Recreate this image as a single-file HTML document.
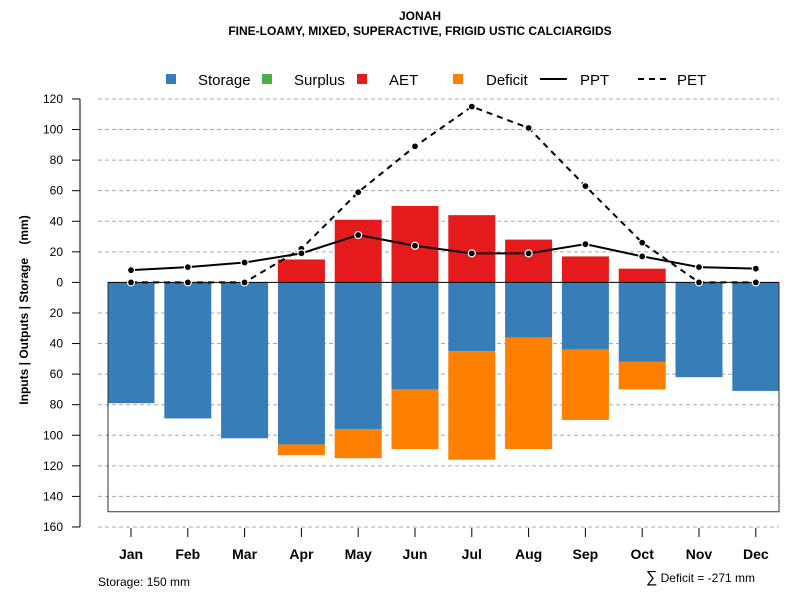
<!DOCTYPE html>
<html><head><meta charset="utf-8"><style>
body{margin:0;background:#fff;font-family:"Liberation Sans",sans-serif}
</style></head><body>
<svg id="c" width="800" height="600" xmlns="http://www.w3.org/2000/svg" font-family="Liberation Sans, sans-serif">
<text x="420" y="20" text-anchor="middle" font-size="12" font-weight="bold">JONAH</text>
<text x="420" y="35" text-anchor="middle" font-size="12" font-weight="bold">FINE-LOAMY, MIXED, SUPERACTIVE, FRIGID USTIC CALCIARGIDS</text>
<g font-size="15">
<rect x="166" y="74" width="10" height="10" fill="#377eb8"/>
<text x="198" y="85">Storage</text>
<rect x="262" y="74" width="10" height="10" fill="#4daf4a"/>
<text x="294" y="85">Surplus</text>
<rect x="357" y="74" width="10" height="10" fill="#e41a1c"/>
<text x="389" y="85">AET</text>
<rect x="453" y="74" width="10" height="10" fill="#ff7f00"/>
<text x="486" y="85">Deficit</text>
<line x1="540" y1="79" x2="567" y2="79" stroke="#000" stroke-width="2"/>
<text x="580" y="85">PPT</text>
<line x1="638" y1="79" x2="667" y2="79" stroke="#000" stroke-width="2" stroke-dasharray="6,5"/>
<text x="677" y="85">PET</text>
</g>
<text transform="translate(28,310) rotate(-90)" text-anchor="middle" font-size="12" font-weight="bold">Inputs | Outputs | Storage&#160;&#160;&#160;&#160;(mm)</text>
<text x="98" y="586" font-size="12">Storage: 150 mm</text>
<text x="755" y="582" text-anchor="end" font-size="12"><tspan font-size="16">∑</tspan> Deficit = -271 mm</text>
<g id="g"></g>
</svg>
<script>
const months=["Jan","Feb","Mar","Apr","May","Jun","Jul","Aug","Sep","Oct","Nov","Dec"];
const storage=[79,89,102,106,96,70,45,36,44,52,62,71];
const deficit=[0,0,0,7,19,39,71,73,46,18,0,0];
const aet=[0,0,0,15,41,50,44,28,17,9,0,0];
const ppt=[8,10,13,19,31,24,19,19,25,17,10,9];
const pet=[0,0,0,22,59,89,115,101,63,26,0,0];
const yTicks=[120,100,80,60,40,20,0,20,40,60,80,100,120,140,160];
const yVals=[120,100,80,60,40,20,0,-20,-40,-60,-80,-100,-120,-140,-160];
const ns="http://www.w3.org/2000/svg";
const g=document.getElementById('g');
const y=v=>282.4-v*1.5286;
const x=i=>131+i*56.8;
function mk(t,a){const e=document.createElementNS(ns,t);for(const k in a)e.setAttribute(k,a[k]);g.appendChild(e);return e;}
yVals.forEach((v,i)=>{
 if(v!==0){const l=mk('line',{x1:98,x2:779,y1:y(v),y2:y(v),stroke:'#aaa','stroke-dasharray':'4,3'});
 
 }
 const t=mk('line',{x1:72,x2:80,y1:y(v),y2:y(v),stroke:'#000'});
 
 
 const tx=mk('text',{x:63,y:y(v)+4,'text-anchor':'end','font-size':12});tx.textContent=yTicks[i];
 
 
});
const ax=mk('line',{x1:80,x2:80,y1:y(120),y2:y(-160),stroke:'#000'});


const bw=47;
months.forEach((m,i)=>{
 const s=mk('rect',{x:x(i)-bw/2,y:y(0),width:bw,height:y(-storage[i])-y(0),fill:'#377eb8'});
 
 
 if(deficit[i]>0){const d=mk('rect',{x:x(i)-bw/2,y:y(-storage[i]),width:bw,height:y(-storage[i]-deficit[i])-y(-storage[i]),fill:'#ff7f00'});
 
 }
 if(aet[i]>0){const a=mk('rect',{x:x(i)-bw/2,y:y(aet[i]),width:bw,height:y(0)-y(aet[i]),fill:'#e41a1c'});
 
 }
 const t=mk('line',{x1:x(i),x2:x(i),y1:528,y2:537,stroke:'#000'});
 
 
 const tx=mk('text',{x:x(i),y:559,'text-anchor':'middle','font-size':14,'font-weight':'bold'});tx.textContent=m;
 
 
});
const box=mk('path',{d:`M108,${y(0)} V${y(-150)} H779 V${y(0)}`,fill:'none',stroke:'#333'});


const z=mk('line',{x1:108,x2:779,y1:y(0),y2:y(0),stroke:'#000'});


[[pet,'6,5','pet'],[ppt,'','ppt']].forEach(([arr,da,n])=>{
 const p=mk('polyline',{points:arr.map((v,i)=>x(i)+','+y(v)).join(' '),fill:'none',stroke:'#000','stroke-width':2,'stroke-dasharray':da});
 
 
 arr.forEach((v,i)=>{const c=mk('circle',{cx:x(i),cy:y(v),r:3.5,fill:'#000',stroke:'#fff','stroke-width':1.2});
 
 });
});
</script>
</body></html>
